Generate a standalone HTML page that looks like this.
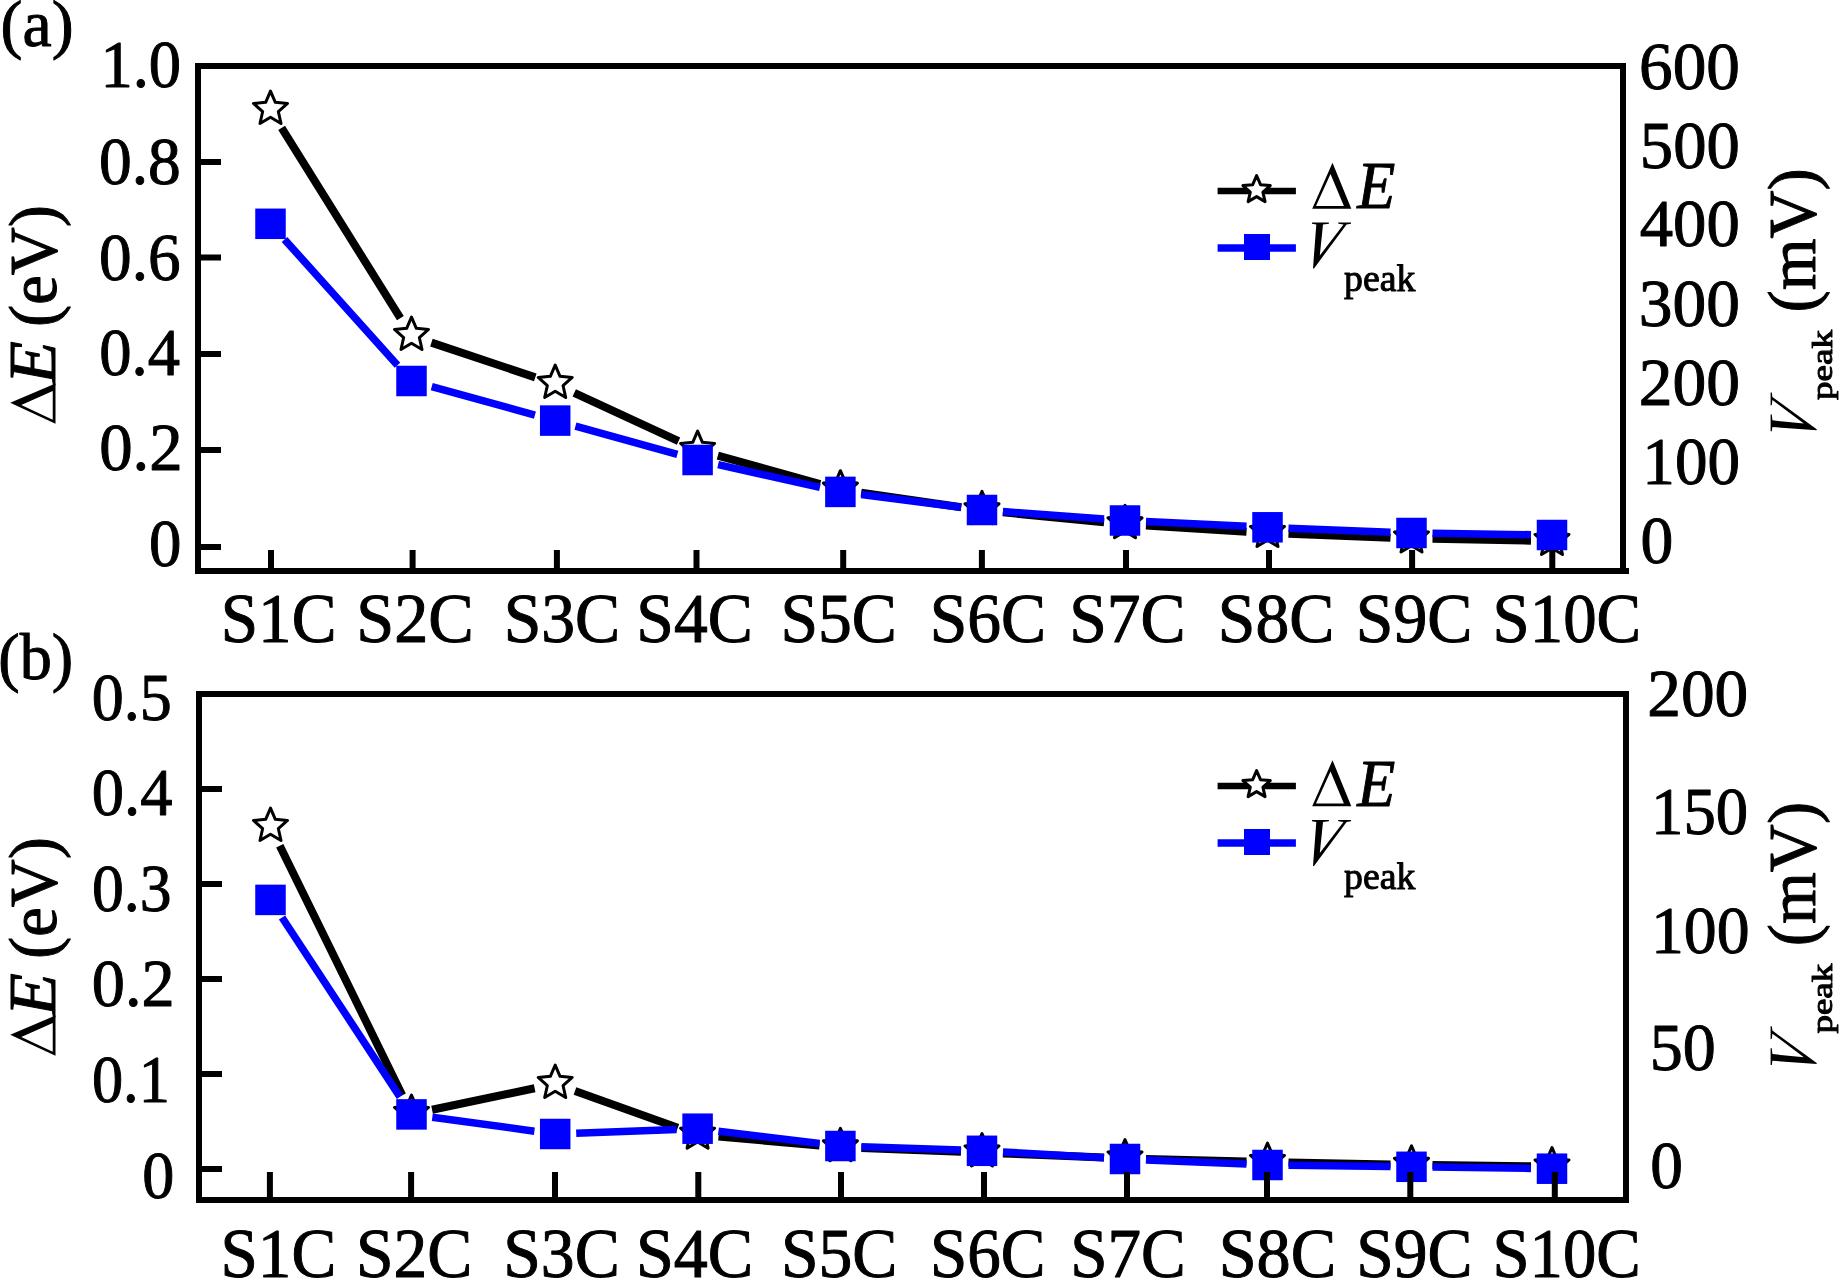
<!DOCTYPE html>
<html><head><meta charset="utf-8"><title>Delta E and V_peak</title>
<style>html,body{margin:0;padding:0;background:#fff;}svg{display:block;will-change:transform;}</style>
</head><body>
<svg width="1846" height="1278" viewBox="0 0 1846 1278" font-family="'Liberation Serif', serif" fill="#000" stroke-linejoin="round">
<rect width="100%" height="100%" fill="#fff"/>
<path d="M281.62 127.82L400.38 318.18M431.42 342.65L535.28 377.35M574.25 392.83L678.55 441.17M717.84 455.61L820.16 483.99M861.18 492.64L961.22 507.26M1002.90 512.35L1104.10 522.25M1145.96 525.58L1246.54 531.72M1288.48 533.80L1390.52 537.70M1432.50 538.87L1531.00 540.63" stroke="#000" stroke-width="8.0" fill="none"/>
<polygon points="270.50,91.10 275.34,102.34 287.52,103.47 278.33,111.54 281.02,123.48 270.50,117.23 259.98,123.48 262.67,111.54 253.48,103.47 265.66,102.34" fill="#fff" stroke="#000" stroke-width="3.0" stroke-linejoin="round"/>
<polygon points="411.50,317.10 416.34,328.34 428.52,329.47 419.33,337.54 422.02,349.48 411.50,343.23 400.98,349.48 403.67,337.54 394.48,329.47 406.66,328.34" fill="#fff" stroke="#000" stroke-width="3.0" stroke-linejoin="round"/>
<polygon points="555.20,365.10 560.04,376.34 572.22,377.47 563.03,385.54 565.72,397.48 555.20,391.23 544.68,397.48 547.37,385.54 538.18,377.47 550.36,376.34" fill="#fff" stroke="#000" stroke-width="3.0" stroke-linejoin="round"/>
<polygon points="697.60,431.10 702.44,442.34 714.62,443.47 705.43,451.54 708.12,463.48 697.60,457.23 687.08,463.48 689.77,451.54 680.58,443.47 692.76,442.34" fill="#fff" stroke="#000" stroke-width="3.0" stroke-linejoin="round"/>
<polygon points="840.40,470.70 845.24,481.94 857.42,483.07 848.23,491.14 850.92,503.08 840.40,496.83 829.88,503.08 832.57,491.14 823.38,483.07 835.56,481.94" fill="#fff" stroke="#000" stroke-width="3.0" stroke-linejoin="round"/>
<polygon points="982.00,491.40 986.84,502.64 999.02,503.77 989.83,511.84 992.52,523.78 982.00,517.53 971.48,523.78 974.17,511.84 964.98,503.77 977.16,502.64" fill="#fff" stroke="#000" stroke-width="3.0" stroke-linejoin="round"/>
<polygon points="1125.00,505.40 1129.84,516.64 1142.02,517.77 1132.83,525.84 1135.52,537.78 1125.00,531.53 1114.48,537.78 1117.17,525.84 1107.98,517.77 1120.16,516.64" fill="#fff" stroke="#000" stroke-width="3.0" stroke-linejoin="round"/>
<polygon points="1267.50,514.10 1272.34,525.34 1284.52,526.47 1275.33,534.54 1278.02,546.48 1267.50,540.23 1256.98,546.48 1259.67,534.54 1250.48,526.47 1262.66,525.34" fill="#fff" stroke="#000" stroke-width="3.0" stroke-linejoin="round"/>
<polygon points="1411.50,519.60 1416.34,530.84 1428.52,531.97 1419.33,540.04 1422.02,551.98 1411.50,545.73 1400.98,551.98 1403.67,540.04 1394.48,531.97 1406.66,530.84" fill="#fff" stroke="#000" stroke-width="3.0" stroke-linejoin="round"/>
<polygon points="1552.00,522.10 1556.84,533.34 1569.02,534.47 1559.83,542.54 1562.52,554.48 1552.00,548.23 1541.48,554.48 1544.17,542.54 1534.98,534.47 1547.16,533.34" fill="#fff" stroke="#000" stroke-width="3.0" stroke-linejoin="round"/>
<path d="M284.52 239.43L397.48 365.37M431.75 386.58L534.95 415.02M575.44 426.20L677.36 454.40M718.09 464.58L819.91 487.32M861.23 494.56L961.17 507.34M1002.94 511.54L1104.06 518.96M1145.98 521.50L1246.52 526.30M1288.48 528.13L1390.52 532.17M1432.50 533.30L1531.00 534.70" stroke="#0000ff" stroke-width="7.5" fill="none"/>
<rect x="255.25" y="208.55" width="30.50" height="30.50" fill="#0000ff"/>
<rect x="396.25" y="365.75" width="30.50" height="30.50" fill="#0000ff"/>
<rect x="539.95" y="405.35" width="30.50" height="30.50" fill="#0000ff"/>
<rect x="682.35" y="444.75" width="30.50" height="30.50" fill="#0000ff"/>
<rect x="825.15" y="476.65" width="30.50" height="30.50" fill="#0000ff"/>
<rect x="966.75" y="494.75" width="30.50" height="30.50" fill="#0000ff"/>
<rect x="1109.75" y="505.25" width="30.50" height="30.50" fill="#0000ff"/>
<rect x="1252.25" y="512.05" width="30.50" height="30.50" fill="#0000ff"/>
<rect x="1396.25" y="517.75" width="30.50" height="30.50" fill="#0000ff"/>
<rect x="1536.75" y="519.75" width="30.50" height="30.50" fill="#0000ff"/>
<path d="M279.76 845.85L402.24 1095.15M432.06 1109.71L534.64 1088.29M574.98 1091.04L677.82 1127.66M718.52 1136.55L819.48 1145.45M861.39 1148.07L961.01 1151.73M1002.98 1153.38L1104.02 1157.62M1145.99 1159.02L1246.51 1161.48M1288.50 1162.41L1390.50 1164.39M1432.50 1165.05L1531.00 1166.25" stroke="#000" stroke-width="8.0" fill="none"/>
<polygon points="270.50,808.10 275.34,819.34 287.52,820.47 278.33,828.54 281.02,840.48 270.50,834.23 259.98,840.48 262.67,828.54 253.48,820.47 265.66,819.34" fill="#fff" stroke="#000" stroke-width="3.0" stroke-linejoin="round"/>
<polygon points="411.50,1095.10 416.34,1106.34 428.52,1107.47 419.33,1115.54 422.02,1127.48 411.50,1121.23 400.98,1127.48 403.67,1115.54 394.48,1107.47 406.66,1106.34" fill="#fff" stroke="#000" stroke-width="3.0" stroke-linejoin="round"/>
<polygon points="555.20,1065.10 560.04,1076.34 572.22,1077.47 563.03,1085.54 565.72,1097.48 555.20,1091.23 544.68,1097.48 547.37,1085.54 538.18,1077.47 550.36,1076.34" fill="#fff" stroke="#000" stroke-width="3.0" stroke-linejoin="round"/>
<polygon points="697.60,1115.80 702.44,1127.04 714.62,1128.17 705.43,1136.24 708.12,1148.18 697.60,1141.93 687.08,1148.18 689.77,1136.24 680.58,1128.17 692.76,1127.04" fill="#fff" stroke="#000" stroke-width="3.0" stroke-linejoin="round"/>
<polygon points="840.40,1128.40 845.24,1139.64 857.42,1140.77 848.23,1148.84 850.92,1160.78 840.40,1154.53 829.88,1160.78 832.57,1148.84 823.38,1140.77 835.56,1139.64" fill="#fff" stroke="#000" stroke-width="3.0" stroke-linejoin="round"/>
<polygon points="982.00,1133.60 986.84,1144.84 999.02,1145.97 989.83,1154.04 992.52,1165.98 982.00,1159.73 971.48,1165.98 974.17,1154.04 964.98,1145.97 977.16,1144.84" fill="#fff" stroke="#000" stroke-width="3.0" stroke-linejoin="round"/>
<polygon points="1125.00,1139.60 1129.84,1150.84 1142.02,1151.97 1132.83,1160.04 1135.52,1171.98 1125.00,1165.73 1114.48,1171.98 1117.17,1160.04 1107.98,1151.97 1120.16,1150.84" fill="#fff" stroke="#000" stroke-width="3.0" stroke-linejoin="round"/>
<polygon points="1267.50,1143.10 1272.34,1154.34 1284.52,1155.47 1275.33,1163.54 1278.02,1175.48 1267.50,1169.23 1256.98,1175.48 1259.67,1163.54 1250.48,1155.47 1262.66,1154.34" fill="#fff" stroke="#000" stroke-width="3.0" stroke-linejoin="round"/>
<polygon points="1411.50,1145.90 1416.34,1157.14 1428.52,1158.27 1419.33,1166.34 1422.02,1178.28 1411.50,1172.03 1400.98,1178.28 1403.67,1166.34 1394.48,1158.27 1406.66,1157.14" fill="#fff" stroke="#000" stroke-width="3.0" stroke-linejoin="round"/>
<polygon points="1552.00,1147.60 1556.84,1158.84 1569.02,1159.97 1559.83,1168.04 1562.52,1179.98 1552.00,1173.73 1541.48,1179.98 1544.17,1168.04 1534.98,1159.97 1547.16,1158.84" fill="#fff" stroke="#000" stroke-width="3.0" stroke-linejoin="round"/>
<path d="M282.04 917.45L399.96 1096.85M432.31 1117.24L534.39 1131.16M576.19 1133.22L676.61 1129.48M718.45 1131.23L819.55 1143.47M861.39 1146.71L961.01 1150.09M1002.97 1152.00L1104.03 1157.80M1145.98 1159.88L1246.52 1164.12M1288.50 1165.26L1390.50 1166.54M1432.50 1167.08L1531.00 1168.42" stroke="#0000ff" stroke-width="7.5" fill="none"/>
<rect x="255.25" y="884.65" width="30.50" height="30.50" fill="#0000ff"/>
<rect x="396.25" y="1099.15" width="30.50" height="30.50" fill="#0000ff"/>
<rect x="539.95" y="1118.75" width="30.50" height="30.50" fill="#0000ff"/>
<rect x="682.35" y="1113.45" width="30.50" height="30.50" fill="#0000ff"/>
<rect x="825.15" y="1130.75" width="30.50" height="30.50" fill="#0000ff"/>
<rect x="966.75" y="1135.55" width="30.50" height="30.50" fill="#0000ff"/>
<rect x="1109.75" y="1143.75" width="30.50" height="30.50" fill="#0000ff"/>
<rect x="1252.25" y="1149.75" width="30.50" height="30.50" fill="#0000ff"/>
<rect x="1396.25" y="1151.55" width="30.50" height="30.50" fill="#0000ff"/>
<rect x="1536.75" y="1153.45" width="30.50" height="30.50" fill="#0000ff"/>
<rect x="198.0" y="66.0" width="1425.0" height="505.0" fill="none" stroke="#000" stroke-width="6" stroke-linejoin="miter"/>
<rect x="199.0" y="694.0" width="1427.0" height="506.0" fill="none" stroke="#000" stroke-width="6" stroke-linejoin="miter"/>
<rect x="1626" y="568" width="3" height="6" fill="#000"/>
<path d="M201 162.0H221M201 257.5H221M201 354.0H221M201 450.0H221M201 547.0H221M271.0 568V550M412.6 568V550M556.9 568V550M696.5 568V550M843.2 568V550M981.9 568V550M1126.0 568V550M1269.0 568V550M1412.1 568V550M1552.3 568V550M202 789.0H222M202 884.0H222M202 979.0H222M202 1074.0H222M202 1169.0H222M269.9 1197V1172M411.1 1197V1172M555.0 1197V1172M698.3 1197V1172M841.0 1197V1172M984.0 1197V1172M1127.0 1197V1172M1267.0 1197V1172M1410.3 1197V1172M1554.8 1197V1172" stroke="#000" stroke-width="6" fill="none"/>
<path d="M1217.6 191.0H1295.9" stroke="#000" stroke-width="6.5"/>
<polygon points="1256.60,175.60 1260.49,184.64 1270.30,185.55 1262.90,192.05 1265.06,201.65 1256.60,196.62 1248.14,201.65 1250.30,192.05 1242.90,185.55 1252.71,184.64" fill="#fff" stroke="#000" stroke-width="3.0" stroke-linejoin="round"/>
<path d="M1217.6 248.0H1295.9" stroke="#0000ff" stroke-width="7.4"/>
<rect x="1244.00" y="234.00" width="26.00" height="26.00" fill="#0000ff"/>
<path d="M1217.6 786.0H1295.9" stroke="#000" stroke-width="6.5"/>
<polygon points="1256.60,770.60 1260.49,779.64 1270.30,780.55 1262.90,787.05 1265.06,796.65 1256.60,791.62 1248.14,796.65 1250.30,787.05 1242.90,780.55 1252.71,779.64" fill="#fff" stroke="#000" stroke-width="3.0" stroke-linejoin="round"/>
<path d="M1217.6 843.0H1295.9" stroke="#0000ff" stroke-width="7.4"/>
<rect x="1244.00" y="829.00" width="26.00" height="26.00" fill="#0000ff"/>
<text transform="translate(0.61 46.19) scale(0.9923 1)" font-size="66.26" stroke="#000" stroke-width="1.00"><tspan>(a)</tspan></text>
<text transform="translate(-1.68 679.09) scale(0.9695 1)" font-size="66.26" stroke="#000" stroke-width="1.00"><tspan>(b)</tspan></text>
<text transform="translate(100.42 87.13) scale(0.9416 1)" font-size="68.60" stroke="#000" stroke-width="1.00"><tspan>1.0</tspan></text>
<text transform="translate(99.01 183.73) scale(0.9548 1)" font-size="68.60" stroke="#000" stroke-width="1.00"><tspan>0.8</tspan></text>
<text transform="translate(99.02 279.53) scale(0.9509 1)" font-size="68.60" stroke="#000" stroke-width="1.00"><tspan>0.6</tspan></text>
<text transform="translate(99.24 374.58) scale(0.9422 1)" font-size="68.60" stroke="#000" stroke-width="1.00"><tspan>0.4</tspan></text>
<text transform="translate(99.16 469.63) scale(0.9739 1)" font-size="68.60" stroke="#000" stroke-width="1.00"><tspan>0.2</tspan></text>
<text transform="translate(149.04 565.82) scale(0.9455 1)" font-size="68.60" stroke="#000" stroke-width="1.00"><tspan>0</tspan></text>
<text transform="translate(1639.11 88.77) scale(0.9800 1)" font-size="68.60" stroke="#000" stroke-width="1.00"><tspan>600</tspan></text>
<text transform="translate(1639.83 168.27) scale(0.9718 1)" font-size="68.60" stroke="#000" stroke-width="1.00"><tspan>500</tspan></text>
<text transform="translate(1639.77 246.47) scale(0.9725 1)" font-size="68.60" stroke="#000" stroke-width="1.00"><tspan>400</tspan></text>
<text transform="translate(1638.76 325.92) scale(0.9835 1)" font-size="68.60" stroke="#000" stroke-width="1.00"><tspan>300</tspan></text>
<text transform="translate(1638.73 404.62) scale(0.9848 1)" font-size="68.60" stroke="#000" stroke-width="1.00"><tspan>200</tspan></text>
<text transform="translate(1642.37 483.62) scale(0.9485 1)" font-size="68.60" stroke="#000" stroke-width="1.00"><tspan>100</tspan></text>
<text transform="translate(1640.61 562.87) scale(0.9558 1)" font-size="68.60" stroke="#000" stroke-width="1.00"><tspan>0</tspan></text>
<text transform="translate(91.67 719.93) scale(0.9333 1)" font-size="68.60" stroke="#000" stroke-width="1.00"><tspan>0.5</tspan></text>
<text transform="translate(91.85 814.53) scale(0.9397 1)" font-size="68.60" stroke="#000" stroke-width="1.00"><tspan>0.4</tspan></text>
<text transform="translate(91.88 910.83) scale(0.9283 1)" font-size="68.60" stroke="#000" stroke-width="1.00"><tspan>0.3</tspan></text>
<text transform="translate(91.78 1005.93) scale(0.9664 1)" font-size="68.60" stroke="#000" stroke-width="1.00"><tspan>0.2</tspan></text>
<text transform="translate(91.93 1101.83) scale(0.9085 1)" font-size="68.60" stroke="#000" stroke-width="1.00"><tspan>0.1</tspan></text>
<text transform="translate(142.16 1197.72) scale(0.9351 1)" font-size="68.60" stroke="#000" stroke-width="1.00"><tspan>0</tspan></text>
<text transform="translate(1647.24 716.12) scale(0.9818 1)" font-size="68.60" stroke="#000" stroke-width="1.00"><tspan>200</tspan></text>
<text transform="translate(1651.11 834.27) scale(0.9432 1)" font-size="68.60" stroke="#000" stroke-width="1.00"><tspan>150</tspan></text>
<text transform="translate(1650.91 952.72) scale(0.9591 1)" font-size="68.60" stroke="#000" stroke-width="1.00"><tspan>100</tspan></text>
<text transform="translate(1649.67 1069.87) scale(0.9627 1)" font-size="68.60" stroke="#000" stroke-width="1.00"><tspan>50</tspan></text>
<text transform="translate(1650.32 1187.72) scale(0.9523 1)" font-size="68.60" stroke="#000" stroke-width="1.00"><tspan>0</tspan></text>
<text transform="translate(220.70 642.25) scale(0.9587 1)" font-size="70.10" stroke="#000" stroke-width="1.00"><tspan>S1C</tspan></text>
<text transform="translate(356.23 642.25) scale(0.9739 1)" font-size="70.10" stroke="#000" stroke-width="1.00"><tspan>S2C</tspan></text>
<text transform="translate(503.67 642.25) scale(0.9650 1)" font-size="70.10" stroke="#000" stroke-width="1.00"><tspan>S3C</tspan></text>
<text transform="translate(636.37 642.25) scale(0.9641 1)" font-size="70.10" stroke="#000" stroke-width="1.00"><tspan>S4C</tspan></text>
<text transform="translate(780.47 642.25) scale(0.9641 1)" font-size="70.10" stroke="#000" stroke-width="1.00"><tspan>S5C</tspan></text>
<text transform="translate(929.67 642.25) scale(0.9641 1)" font-size="70.10" stroke="#000" stroke-width="1.00"><tspan>S6C</tspan></text>
<text transform="translate(1069.17 642.25) scale(0.9641 1)" font-size="70.10" stroke="#000" stroke-width="1.00"><tspan>S7C</tspan></text>
<text transform="translate(1217.87 642.36) scale(0.9641 1)" font-size="70.10" stroke="#000" stroke-width="1.00"><tspan>S8C</tspan></text>
<text transform="translate(1355.87 642.25) scale(0.9650 1)" font-size="70.10" stroke="#000" stroke-width="1.00"><tspan>S9C</tspan></text>
<text transform="translate(1492.62 642.36) scale(0.9533 1)" font-size="70.10" stroke="#000" stroke-width="1.00"><tspan>S10C</tspan></text>
<text transform="translate(220.50 1277.05) scale(0.9579 1)" font-size="70.10" stroke="#000" stroke-width="1.00"><tspan>S1C</tspan></text>
<text transform="translate(355.98 1277.05) scale(0.9632 1)" font-size="70.10" stroke="#000" stroke-width="1.00"><tspan>S2C</tspan></text>
<text transform="translate(503.27 1277.05) scale(0.9641 1)" font-size="70.10" stroke="#000" stroke-width="1.00"><tspan>S3C</tspan></text>
<text transform="translate(635.94 1277.05) scale(0.9712 1)" font-size="70.10" stroke="#000" stroke-width="1.00"><tspan>S4C</tspan></text>
<text transform="translate(780.97 1277.05) scale(0.9641 1)" font-size="70.10" stroke="#000" stroke-width="1.00"><tspan>S5C</tspan></text>
<text transform="translate(930.01 1277.05) scale(0.9561 1)" font-size="70.10" stroke="#000" stroke-width="1.00"><tspan>S6C</tspan></text>
<text transform="translate(1070.31 1277.05) scale(0.9561 1)" font-size="70.10" stroke="#000" stroke-width="1.00"><tspan>S7C</tspan></text>
<text transform="translate(1218.63 1277.16) scale(0.9730 1)" font-size="70.10" stroke="#000" stroke-width="1.00"><tspan>S8C</tspan></text>
<text transform="translate(1356.18 1277.05) scale(0.9623 1)" font-size="70.10" stroke="#000" stroke-width="1.00"><tspan>S9C</tspan></text>
<text transform="translate(1492.43 1277.16) scale(0.9519 1)" font-size="70.10" stroke="#000" stroke-width="1.00"><tspan>S10C</tspan></text>
<path d="M10.20 402.83L55.50 383.50L55.50 423.70ZM21.30 404.89L52.75 391.11L52.75 419.79Z" fill="#000" fill-rule="evenodd"/>
<text transform="translate(55.00 384.15) rotate(-90) scale(1.0496 1)" font-size="67.18" stroke="#000" stroke-width="1.00"><tspan font-style="italic">E</tspan></text>
<text transform="translate(56.28 327.03) rotate(-90) scale(0.9842 1)" font-size="67.70" stroke="#000" stroke-width="1.00"><tspan>(eV)</tspan></text>
<path d="M10.20 1034.83L55.50 1015.50L55.50 1055.70ZM21.30 1036.89L52.75 1023.11L52.75 1051.79Z" fill="#000" fill-rule="evenodd"/>
<text transform="translate(55.00 1016.15) rotate(-90) scale(1.0496 1)" font-size="67.18" stroke="#000" stroke-width="1.00"><tspan font-style="italic">E</tspan></text>
<text transform="translate(56.28 959.03) rotate(-90) scale(0.9842 1)" font-size="67.70" stroke="#000" stroke-width="1.00"><tspan>(eV)</tspan></text>
<path d="M1770.60 431.30L1770.60 414.49L1771.81 414.49L1772.41 420.36L1803.82 423.54L1772.41 399.96L1771.81 404.94L1770.60 405.43L1770.60 392.50L1771.81 392.50L1772.41 396.88L1816.70 429.31L1816.70 430.31L1772.41 427.02L1771.81 431.30Z" fill="#000" fill-rule="evenodd"/>
<text transform="translate(1831.68 399.89) rotate(-90) scale(1.2482 1)" font-size="29.66" stroke="#000" stroke-width="1.00"><tspan>peak</tspan></text>
<text transform="translate(1815.22 312.43) rotate(-90) scale(0.9936 1)" font-size="67.03" stroke="#000" stroke-width="1.00"><tspan>(mV)</tspan></text>
<path d="M1770.60 1065.00L1770.60 1048.19L1771.81 1048.19L1772.41 1054.06L1803.82 1057.24L1772.41 1033.66L1771.81 1038.64L1770.60 1039.13L1770.60 1026.20L1771.81 1026.20L1772.41 1030.58L1816.70 1063.01L1816.70 1064.01L1772.41 1060.72L1771.81 1065.00Z" fill="#000" fill-rule="evenodd"/>
<text transform="translate(1831.68 1033.59) rotate(-90) scale(1.2482 1)" font-size="29.66" stroke="#000" stroke-width="1.00"><tspan>peak</tspan></text>
<text transform="translate(1815.22 946.13) rotate(-90) scale(0.9936 1)" font-size="67.03" stroke="#000" stroke-width="1.00"><tspan>(mV)</tspan></text>
<path d="M1332.50 162.70L1351.30 208.80L1312.20 208.80ZM1330.50 174.00L1343.90 206.00L1316.00 206.00Z" fill="#000" fill-rule="evenodd"/>
<text transform="translate(1357.25 208.10) scale(0.9355 1)" font-size="66.56" stroke="#000" stroke-width="1.00"><tspan font-style="italic">E</tspan></text>
<path d="M1312.00 222.60L1328.90 222.60L1328.90 223.80L1323.00 224.40L1319.80 255.60L1343.50 224.40L1338.50 223.80L1338.00 222.60L1351.00 222.60L1351.00 223.80L1346.60 224.40L1314.00 268.40L1313.00 268.40L1316.30 224.40L1312.00 223.80Z" fill="#000" fill-rule="evenodd"/>
<text transform="translate(1344.00 291.05) scale(0.9872 1)" font-size="38.26" stroke="#000" stroke-width="1.00"><tspan>peak</tspan></text>
<path d="M1332.50 760.20L1351.30 806.30L1312.20 806.30ZM1330.50 771.50L1343.90 803.50L1316.00 803.50Z" fill="#000" fill-rule="evenodd"/>
<text transform="translate(1357.25 805.60) scale(0.9355 1)" font-size="66.56" stroke="#000" stroke-width="1.00"><tspan font-style="italic">E</tspan></text>
<path d="M1312.00 820.10L1328.90 820.10L1328.90 821.30L1323.00 821.90L1319.80 853.10L1343.50 821.90L1338.50 821.30L1338.00 820.10L1351.00 820.10L1351.00 821.30L1346.60 821.90L1314.00 865.90L1313.00 865.90L1316.30 821.90L1312.00 821.30Z" fill="#000" fill-rule="evenodd"/>
<text transform="translate(1344.00 888.55) scale(0.9872 1)" font-size="38.26" stroke="#000" stroke-width="1.00"><tspan>peak</tspan></text>
</svg>
</body></html>
